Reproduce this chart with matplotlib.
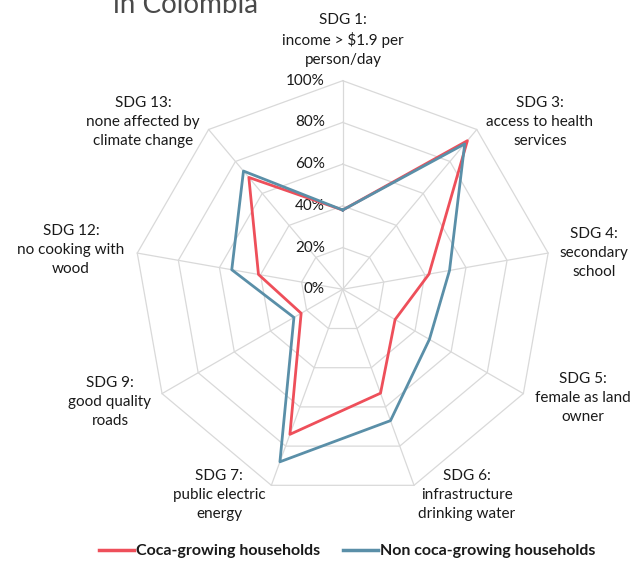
import numpy as np
import matplotlib
matplotlib.use("Agg")
import matplotlib.pyplot as plt
import matplotlib.transforms as mtransforms

plt.rcParams['font.family'] = ['Lato', 'DejaVu Sans']

categories = [
    "SDG 1:\nincome > $1.9 per\nperson/day",
    "SDG 3:\naccess to health\nservices",
    "SDG 4:\nsecondary\nschool",
    "SDG 5:\nfemale as land\nowner",
    "SDG 6:\ninfrastructure\ndrinking water",
    "SDG 7:\npublic electric\nenergy",
    "SDG 9:\ngood quality\nroads",
    "SDG 12:\nno cooking with\nwood",
    "SDG 13:\nnone affected by\nclimate change",
]
coca = [38, 93, 42, 29, 53, 74, 23, 41, 70]
non_coca = [38, 91, 52, 48, 67, 88, 27, 54, 74]
r_ticks = [0, 20, 40, 60, 80, 100]
r_labels = ["0%", "20%", "40%", "60%", "80%", "100%"]
series_names = ["Coca-growing households", "Non coca-growing households"]
title_text = "in Colombia"

RED = "#EE4F5A"
BLUE = "#5A8FA8"
GRID = "#D9D9D9"
TXT = "#1a1a1a"

W, H = 644, 562
fig = plt.figure(figsize=(W / 100, H / 100), dpi=100)

cx, cy, R = 342.7, 562 - 289.3, 208.6
ax = fig.add_axes([(cx - R) / W, (cy - R) / H, 2 * R / W, 2 * R / H], projection='polar')
ax.set_theta_offset(np.pi / 2)
ax.set_theta_direction(-1)
ax.set_ylim(0, 100)
ax.grid(False)
ax.spines['polar'].set_visible(False)
ax.set_xticks([])
ax.set_yticks([])
ax.patch.set_alpha(0)

n = len(categories)
angles = np.linspace(0, 2 * np.pi, n, endpoint=False)
closed = np.concatenate([angles, angles[:1]])

# polygon grid
for r in r_ticks[1:]:
    ax.plot(closed, [r] * (n + 1), color=GRID, lw=0.9, zorder=1, clip_on=False)
for a in angles:
    ax.plot([a, a], [0, r_ticks[-1]], color=GRID, lw=0.9, zorder=1, clip_on=False)

# radial labels
off = mtransforms.offset_copy(ax.transData, fig=fig, x=-18, y=0, units='dots')
for r, lab in zip(r_ticks, r_labels):
    ax.text(0, r, lab, transform=off, ha='right', va='center', fontsize=11, color=TXT)

# series
ax.plot(closed, coca + coca[:1], color=RED, lw=2.0, zorder=3, clip_on=False, label=series_names[0])
ax.plot(closed, non_coca + non_coca[:1], color=BLUE, lw=2.0, zorder=4, clip_on=False, label=series_names[1])

# category labels (pixel positions of block centers)
label_pos = [(343, 40), (540, 122), (594, 253), (583, 398), (467, 495),
             (219, 495), (110, 402), (71, 250), (143, 122)]
for lab, (x, y) in zip(categories, label_pos):
    fig.text(x / W, 1 - y / H, lab, ha='center', va='center', fontsize=11,
             color=TXT, linespacing=1.45, multialignment='center')

fig.text(113 / W, 1 - 13 / H, title_text, ha='left', va='baseline', fontsize=20,
         color='#4a4a4a')

leg = fig.legend(loc='center', bbox_to_anchor=(347 / W, 1 - 551 / H), ncol=2,
                 frameon=False, handlelength=2.2, handletextpad=0.15, columnspacing=1.4,
                 prop={'weight': 'bold', 'size': 11.5})
for t in leg.get_texts():
    t.set_color(TXT)
for h in leg.legend_handles:
    h.set_linewidth(2.5)

fig.savefig("out.png", dpi=100)
